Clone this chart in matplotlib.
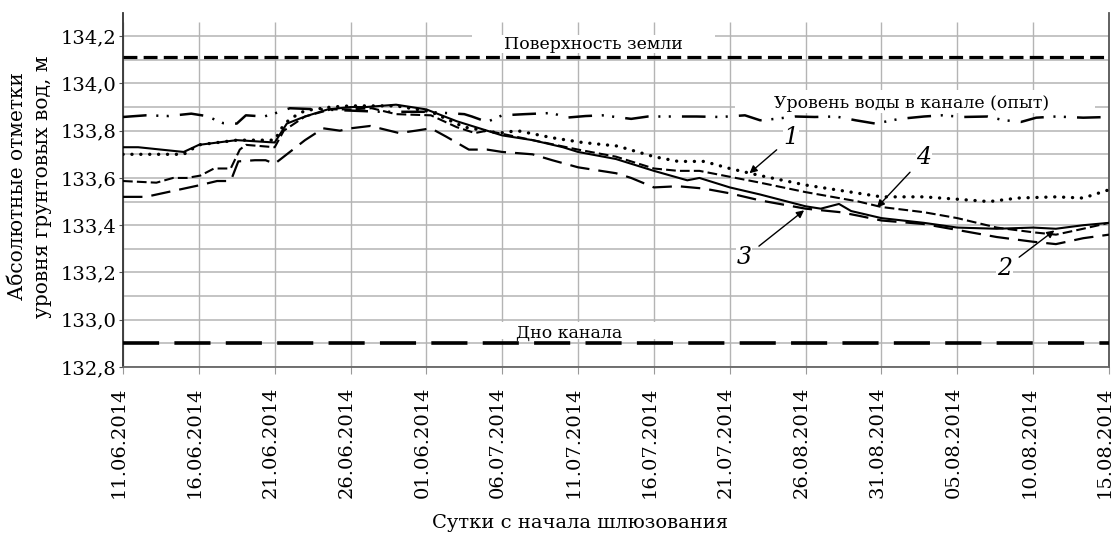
import matplotlib
matplotlib.use("Agg")
import matplotlib.pyplot as plt
import matplotlib.transforms as mtransforms
from matplotlib.patches import Rectangle

plt.rcParams['font.family'] = ['DejaVu Serif']
plt.rcParams['lines.scale_dashes'] = False

# ---- data (day index from 11.06.2014, value in m) ----
tick_labels = ["11.06.2014", "16.06.2014", "21.06.2014", "26.06.2014", "01.06.2014",
               "06.07.2014", "11.07.2014", "16.07.2014", "21.07.2014", "26.08.2014",
               "31.08.2014", "05.08.2014", "10.08.2014", "15.08.2014"]
tick_days = [0, 5, 10, 15, 20, 25, 30, 35, 40, 45, 50, 55, 60, 65]

ground_level = 134.11
canal_bottom = 132.90

canal_days = [0, 1.5, 3, 4.5, 5.5, 6.6, 7.5, 8.1, 9.3, 10, 11, 13, 15, 17, 20, 22.5, 23, 24,
              25, 26.5, 28.3, 29.2, 30.5, 31.6, 33.5, 34.6, 36, 37.8, 39.4, 41, 42, 43, 44.3,
              45.6, 47, 48.3, 49.6, 51.2, 52.8, 54, 55.4, 57, 58, 59.2, 60.2, 61.5, 63.3, 65]
canal_vals = [133.858, 133.865, 133.862, 133.872, 133.862, 133.832, 133.83, 133.865, 133.86,
              133.873, 133.895, 133.89, 133.885, 133.88, 133.88, 133.87, 133.86, 133.837,
              133.865, 133.87, 133.875, 133.855, 133.862, 133.865, 133.85, 133.86, 133.86,
              133.86, 133.858, 133.865, 133.844, 133.85, 133.86, 133.858, 133.86, 133.844,
              133.83, 133.85, 133.86, 133.865, 133.858, 133.86, 133.845, 133.837, 133.855,
              133.86, 133.855, 133.858]

c1_days = [0, 4, 5, 7.5, 10, 10.5, 11, 12, 13.7, 15, 18, 20.3, 22.5, 24.8, 26, 28.3, 30.3,
           32.6, 35, 36.6, 38.3, 40, 42, 45, 48.5, 50, 52.8, 55, 57.1, 59, 61.5, 63.3, 65]
c1_vals = [133.70, 133.70, 133.74, 133.76, 133.76, 133.815, 133.85, 133.885, 133.90, 133.905,
           133.905, 133.88, 133.815, 133.79, 133.80, 133.77, 133.75, 133.735, 133.69, 133.67,
           133.67, 133.64, 133.61, 133.57, 133.535, 133.52, 133.52, 133.51, 133.50, 133.515,
           133.52, 133.515, 133.55]

c2_days = [0, 1, 4, 5, 7.5, 10, 10.8, 12, 13.5, 15, 16, 18, 20, 22, 24, 25, 27, 29, 30, 32.5,
           35, 37.2, 38, 40, 42, 45, 46, 47.2, 48, 50, 52.8, 55, 57.6, 60, 61.5, 63.3, 65]
c2_vals = [133.73, 133.73, 133.71, 133.74, 133.76, 133.75, 133.83, 133.86, 133.89, 133.90,
           133.90, 133.91, 133.89, 133.84, 133.80, 133.78, 133.76, 133.73, 133.71, 133.68,
           133.63, 133.59, 133.60, 133.56, 133.53, 133.48, 133.47, 133.49, 133.46, 133.43,
           133.41, 133.39, 133.385, 133.39, 133.385, 133.40, 133.41]

c3_days = [0, 1.5, 3.3, 5.1, 6.2, 7.1, 7.6, 8.7, 9.4, 10, 12, 13.2, 14.3, 15, 16.3, 18.2, 19.3,
           20.3, 21.3, 22.8, 24, 25, 27, 28.3, 30, 32.5, 33.5, 35, 36.6, 38.3, 40, 42, 45, 47.3,
           48.5, 50, 52.8, 55, 57.6, 60, 61.5, 63.3, 65]
c3_vals = [133.52, 133.52, 133.545, 133.57, 133.587, 133.587, 133.67, 133.675, 133.675, 133.66,
           133.76, 133.81, 133.80, 133.81, 133.82, 133.79, 133.80, 133.81, 133.775, 133.72,
           133.72, 133.71, 133.70, 133.675, 133.645, 133.62, 133.60, 133.56, 133.565, 133.555,
           133.535, 133.505, 133.47, 133.455, 133.44, 133.42, 133.405, 133.38, 133.35, 133.33,
           133.32, 133.345, 133.36]

c4_days = [0, 2.2, 3.3, 4.2, 5.1, 6, 7.1, 7.7, 8.1, 10, 10.6, 12, 13.7, 15, 16.4, 18, 20.3, 22,
           23.2, 24, 27, 30, 32.5, 35, 36.6, 38, 40, 42, 45, 48.5, 50, 52.8, 55, 57.6, 60, 61.5,
           63.3, 65]
c4_vals = [133.587, 133.58, 133.60, 133.60, 133.61, 133.64, 133.64, 133.72, 133.74, 133.73,
           133.80, 133.86, 133.89, 133.89, 133.895, 133.87, 133.865, 133.815, 133.79, 133.80,
           133.76, 133.72, 133.69, 133.64, 133.63, 133.63, 133.605, 133.58, 133.54, 133.50,
           133.477, 133.455, 133.43, 133.39, 133.37, 133.36, 133.385, 133.41]

y_ticks = [132.8, 133.0, 133.2, 133.4, 133.6, 133.8, 134.0, 134.2]
y_tick_labels = ["132,8", "133,0", "133,2", "133,4", "133,6", "133,8", "134,0", "134,2"]
minor_y = [132.9, 133.1, 133.3, 133.5, 133.7, 133.9, 134.1]

# ---- figure ----
W, H = 1115, 536
fig = plt.figure(figsize=(W / 100, H / 100), dpi=100)
ax = fig.add_axes([123 / W, 1 - 367 / H, (1109 - 123) / W, (367 - 13) / H])

ax.set_xlim(0, 65)
ax.set_ylim(132.8, 134.298)

grid_c = '#b4b4b4'
for v in y_ticks + minor_y:
    ax.axhline(v, color=grid_c, lw=1.1, zorder=0)
ax.vlines(tick_days, 132.8, 134.258, color=grid_c, lw=1.0, zorder=0)

# white label boxes (in pixel-based axes coords)
def box(x0, x1, y0, y1):
    ax.add_patch(Rectangle(((x0 - 123) / 986, (367 - y1) / 354), (x1 - x0) / 986,
                           (y1 - y0) / 354, transform=ax.transAxes, facecolor='white',
                           edgecolor='none', zorder=1))
box(472, 715, 35, 53)
box(735, 1095, 90, 113)
box(455, 705, 322, 339)

k = 'black'
ax.axhline(ground_level, color=k, lw=2.3, linestyle=(0, (10, 4.5)), zorder=3)
ax.axhline(canal_bottom, color=k, lw=2.6, linestyle=(0, (26, 11)), zorder=3)

ax.plot(canal_days, canal_vals, color=k, lw=1.8,
        linestyle=(0, (17, 7, 1.5, 6, 1.5, 8)), zorder=3)
ax.plot(c1_days, c1_vals, color=k, lw=2.4, linestyle=(0, (0.1, 6.3)),
        dash_capstyle='round', zorder=3)
ax.plot(c2_days, c2_vals, color=k, lw=1.5, linestyle='-', zorder=3)
ax.plot(c3_days, c3_vals, color=k, lw=1.6, linestyle=(0, (14, 6.5)), zorder=3)
ax.plot(c4_days, c4_vals, color=k, lw=1.5, linestyle=(0, (7, 3)), zorder=3)

ax.text(31.0, 134.166, "Поверхность земли", ha='center', va='center', fontsize=12.5, zorder=4)
ax.text(52.0, 133.917, "Уровень воды в канале (опыт)", ha='center', va='center',
        fontsize=12.5, zorder=4)
ax.text(29.4, 132.942, "Дно канала", ha='center', va='center', fontsize=12.5, zorder=4)

num_kw = dict(fontsize=17, style='italic', ha='center', va='center', zorder=5,
              bbox=dict(facecolor='white', edgecolor='none', pad=0.5))
arr = dict(arrowstyle='-|>', color=k, lw=1.0, mutation_scale=11, shrinkA=6, shrinkB=0)
ax.annotate("1", xy=(41.3, 133.62), xytext=(44.05, 133.772), arrowprops=arr, **num_kw)
ax.annotate("4", xy=(49.7, 133.475), xytext=(52.8, 133.687), arrowprops=arr, **num_kw)
ax.annotate("3", xy=(44.9, 133.463), xytext=(40.95, 133.262), arrowprops=arr, **num_kw)
ax.annotate("2", xy=(61.4, 133.378), xytext=(58.1, 133.217), arrowprops=arr, **num_kw)

# x ticks; labels drawn as texts slightly left of each tick (as in the reference)
ax.set_xticks(tick_days)
ax.set_xticklabels([])
lab_tr = ax.get_xaxis_transform() + mtransforms.ScaledTranslation(-4 / 100, -19 / 100,
                                                                   fig.dpi_scale_trans)
for d, t in zip(tick_days, tick_labels):
    ax.text(d, 0, t, transform=lab_tr, rotation=90, ha='center', va='top', fontsize=14,
            clip_on=False)
ax.set_yticks(y_ticks)
ax.set_yticklabels(y_tick_labels, fontsize=14)
ax.tick_params(axis='x', length=5, color='#999999', pad=8)
ax.tick_params(axis='y', length=3, color='#555555', pad=2)

ax.spines['top'].set_visible(False)
ax.spines['left'].set_color('#333333')
ax.spines['right'].set_color('#555555')
ax.spines['bottom'].set_color('#666666')
for s in ['left', 'right', 'bottom']:
    ax.spines[s].set_linewidth(1.3)

fig.text(18 / W, 1 - 186 / H, "Абсолютные отметки", rotation=90, ha='center', va='center',
         fontsize=14.5)
fig.text(43 / W, 1 - 187 / H, "уровня грунтовых вод, м", rotation=90, ha='center',
         va='center', fontsize=14.5)
fig.text(580 / W, 1 - 523 / H, "Сутки с начала шлюзования", ha='center', va='center',
         fontsize=14)

fig.savefig("out.png", dpi=100)
